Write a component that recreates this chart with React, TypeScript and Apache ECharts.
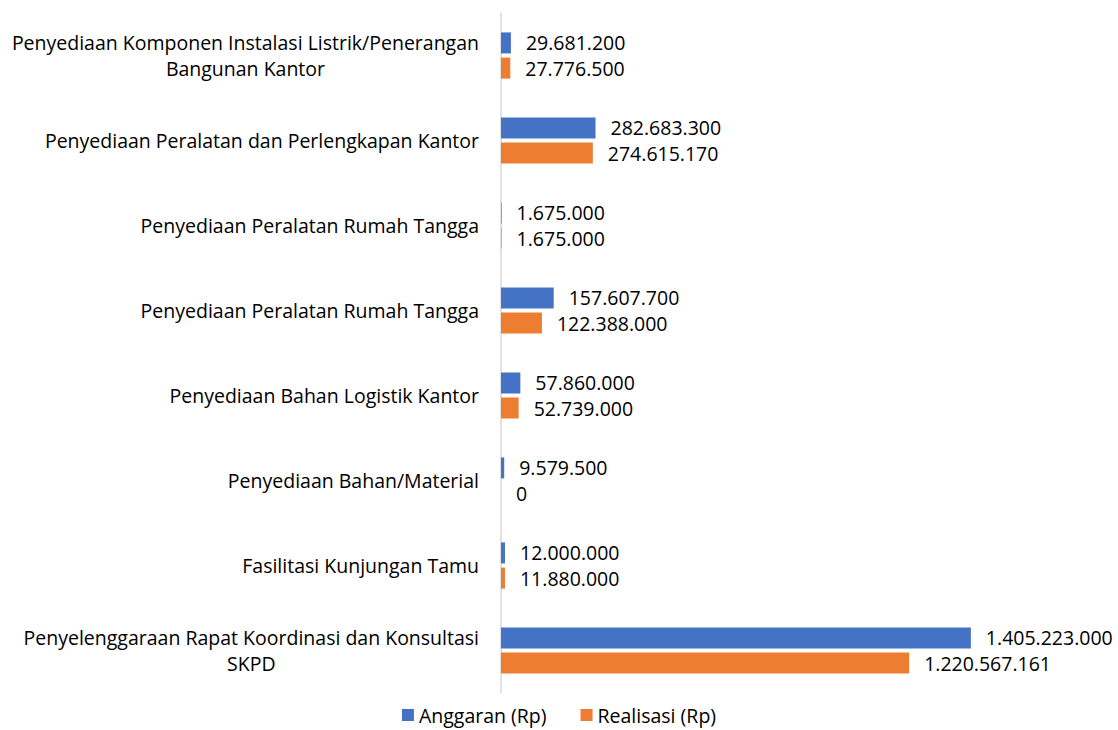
import React, { useEffect, useRef } from "react";
import * as echarts from "echarts";

const categories: string[] = [
  "Penyediaan Komponen Instalasi Listrik/Penerangan\nBangunan Kantor",
  "Penyediaan Peralatan dan Perlengkapan Kantor",
  "Penyediaan Peralatan Rumah Tangga",
  "Penyediaan Peralatan Rumah Tangga",
  "Penyediaan Bahan Logistik Kantor",
  "Penyediaan Bahan/Material",
  "Fasilitasi Kunjungan Tamu",
  "Penyelenggaraan Rapat Koordinasi dan Konsultasi\nSKPD",
];

const anggaran: number[] = [
  29681200, 282683300, 1675000, 157607700, 57860000, 9579500, 12000000, 1405223000,
];

const realisasi: number[] = [
  27776500, 274615170, 1675000, 122388000, 52739000, 0, 11880000, 1220567161,
];

const seriesNames = ["Anggaran (Rp)", "Realisasi (Rp)"];

const FONT = "'Open Sans', 'Noto Sans', sans-serif";
const FS = 19.5;

function fmt(v: number): string {
  return String(v).replace(/\B(?=(\d{3})+(?!\d))/g, ".");
}

export default function App() {
  const ref = useRef<HTMLDivElement>(null);
  useEffect(() => {
    if (!ref.current) return;
    const chart = echarts.init(ref.current, undefined, { renderer: "svg" });
    const label = {
      show: true,
      position: "right",
      distance: 15,
      formatter: (p: any) => fmt(p.value),
      fontFamily: FONT,
      fontSize: FS,
      color: "#000",
    };
    chart.setOption({
      animation: false,
      textStyle: { fontFamily: FONT },
      grid: { left: 501, right: 82, top: 13, bottom: 37, containLabel: false },
      legend: {
        bottom: 0,
        left: "center",
        data: seriesNames,
        icon: "rect",
        itemWidth: 12,
        itemHeight: 12,
        itemGap: 34,
        itemStyle: { borderWidth: 0 },
        textStyle: { fontFamily: FONT, fontSize: FS, color: "#000" },
      },
      xAxis: {
        type: "value",
        min: 0,
        max: 1600000000,
        show: false,
        splitLine: { show: false },
      },
      yAxis: {
        type: "category",
        inverse: true,
        data: categories,
        axisLine: { show: true, lineStyle: { color: "#d9d9d9", width: 1.5 } },
        axisTick: { show: false },
        axisLabel: {
          margin: 22,
          formatter: (v: string) =>
            v
              .split("\n")
              .map((l) => "{c|" + l + "}")
              .join("\n"),
          rich: {
            c: {
              align: "center",
              fontFamily: FONT,
              fontSize: FS,
              color: "#000",
              lineHeight: 26,
            },
          },
        },
      },
      series: [
        {
          name: seriesNames[0],
          type: "bar",
          data: anggaran,
          barWidth: 21,
          barGap: "20%",
          itemStyle: { color: "#4472C4" },
          label,
        },
        {
          name: seriesNames[1],
          type: "bar",
          data: realisasi,
          barWidth: 21,
          barGap: "20%",
          itemStyle: { color: "#ED7D31" },
          label,
        },
      ],
    });
    return () => chart.dispose();
  }, []);
  return (
    <div
      ref={ref}
      style={{ position: "absolute", left: 0, top: 0, width: 1118, height: 730, background: "#fff" }}
    />
  );
}
